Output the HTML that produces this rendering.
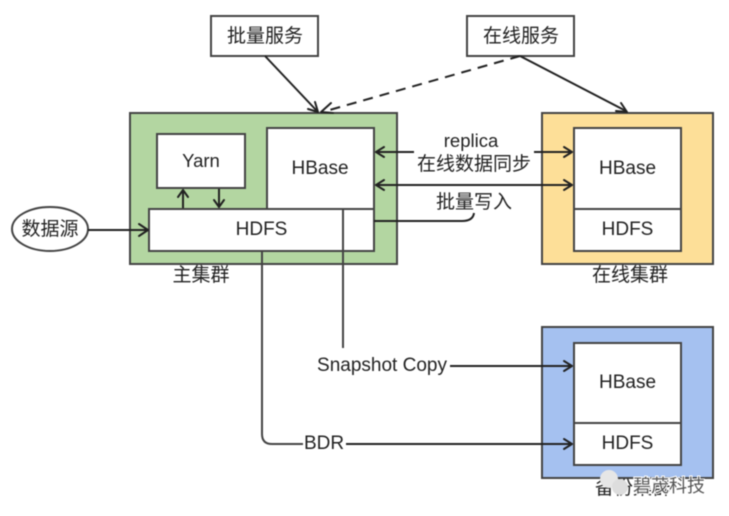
<!DOCTYPE html>
<html><head><meta charset="utf-8"><style>
html,body{margin:0;padding:0;background:#fff}
svg{display:block;filter:blur(.4px)}
text{font-family:"Liberation Sans","Noto Sans CJK SC",sans-serif;fill:#222;text-anchor:middle}
.b{stroke:#444;stroke-width:2}
.l{stroke:#222;stroke-width:2;fill:none}
.a{stroke:#222;stroke-width:2;fill:none;stroke-linecap:round;stroke-linejoin:round}
</style></head><body>
<svg width="729" height="516" viewBox="0 0 729 516" xmlns="http://www.w3.org/2000/svg">
<rect width="729" height="516" fill="#fff"/>
<!-- clusters -->
<rect class="b" x="130" y="113" width="267" height="151" fill="#b3d6a1"/>
<rect class="b" x="542" y="113" width="171" height="151" fill="#fddf98"/>
<rect class="b" x="542" y="327" width="171" height="151" fill="#a5c1f0"/>
<!-- top boxes -->
<rect class="b" x="211" y="16" width="107" height="40" fill="#fff"/>
<rect class="b" x="467" y="16" width="107" height="40" fill="#fff"/>
<text x="265" y="42" font-size="19">批量服务</text>
<text x="521" y="42" font-size="19">在线服务</text>
<!-- green inner -->
<rect class="b" x="157" y="134" width="88" height="54" fill="#fff"/>
<rect class="b" x="267" y="128" width="107" height="81" fill="#fff"/>
<rect class="b" x="149" y="209" width="225" height="42" fill="#fff"/>
<text x="201" y="167" font-size="18.5">Yarn</text>
<text x="320" y="174" font-size="19">HBase</text>
<text x="261.500" y="235" font-size="19">HDFS</text>
<!-- yellow inner -->
<rect class="b" x="574" y="128" width="107" height="81" fill="#fff"/>
<rect class="b" x="574" y="209" width="107" height="42" fill="#fff"/>
<text x="627.500" y="174" font-size="19">HBase</text>
<text x="627.500" y="235" font-size="19">HDFS</text>
<!-- blue inner -->
<rect class="b" x="574" y="343" width="107" height="80" fill="#fff"/>
<rect class="b" x="574" y="423" width="107" height="42" fill="#fff"/>
<text x="627.500" y="388" font-size="19">HBase</text>
<text x="627.500" y="449" font-size="19">HDFS</text>
<!-- data source -->
<ellipse class="b" cx="50" cy="229" rx="38" ry="22" fill="#fff"/>
<text x="50" y="235" font-size="19">数据源</text>
<line class="l" x1="88" y1="230" x2="147" y2="230"/>
<path class="a" d="M139 224L148 230L139 236"/>
<!-- yarn arrows -->
<line class="l" x1="183" y1="208" x2="183" y2="190"/>
<path class="a" d="M178 197L183 190L188 197"/>
<line class="l" x1="219" y1="189" x2="219" y2="207"/>
<path class="a" d="M214 200L219 207L224 200"/>
<!-- service arrows -->
<line class="l" x1="265" y1="56" x2="317" y2="111"/>
<path class="a" d="M308 109L318 112L315 102"/>
<line x1="520" y1="56" x2="326" y2="111" stroke="#222" stroke-width="2" stroke-dasharray="10 7"/>
<path class="a" d="M331 103L321 112L333 113"/>
<line class="l" x1="520" y1="56" x2="626" y2="111"/>
<path class="a" d="M616 111L627 112L621 103"/>
<!-- replica arrows -->
<line class="l" x1="376" y1="152" x2="414" y2="152"/>
<path class="a" d="M384 147L376 152L384 157"/>
<line class="l" x1="534" y1="152" x2="572" y2="152"/>
<path class="a" d="M564 147L572 152L564 157"/>
<line class="l" x1="376" y1="185" x2="572" y2="185"/>
<path class="a" d="M384 180L376 185L384 190"/>
<path class="a" d="M564 180L572 185L564 190"/>
<path class="l" d="M374 221H462Q473 221 474 213"/>
<text x="471" y="147" font-size="18.5">replica</text>
<text x="474" y="170" font-size="19">在线数据同步</text>
<text x="474" y="208" font-size="19">批量写入</text>
<!-- snapshot -->
<line x1="343" y1="209" x2="343" y2="348" stroke="#444" stroke-width="2"/>
<text x="382" y="371" font-size="19">Snapshot Copy</text>
<line class="l" x1="450" y1="366" x2="572" y2="366"/>
<path class="a" d="M564 361L572 366L564 371"/>
<!-- BDR -->
<path d="M262 251V434Q262 444 272 444H303" fill="none" stroke="#444" stroke-width="2"/>
<text x="324" y="449" font-size="19">BDR</text>
<line class="l" x1="346" y1="444" x2="572" y2="444"/>
<path class="a" d="M564 439L572 444L564 449"/>
<!-- labels -->
<text x="201" y="281" font-size="19">主集群</text>
<text x="630" y="281" font-size="19">在线集群</text>
<text x="633" y="494" font-size="19">备份集群</text>
<!-- watermark -->
<circle cx="609" cy="479" r="9" fill="#e6e6e6"/>
<circle cx="620" cy="487" r="8" fill="#ddd"/>
<text x="669" y="492" font-size="18" style="fill:#555;stroke:#fff;stroke-width:2;paint-order:stroke">碧茂科技</text>
</svg>
</body></html>
